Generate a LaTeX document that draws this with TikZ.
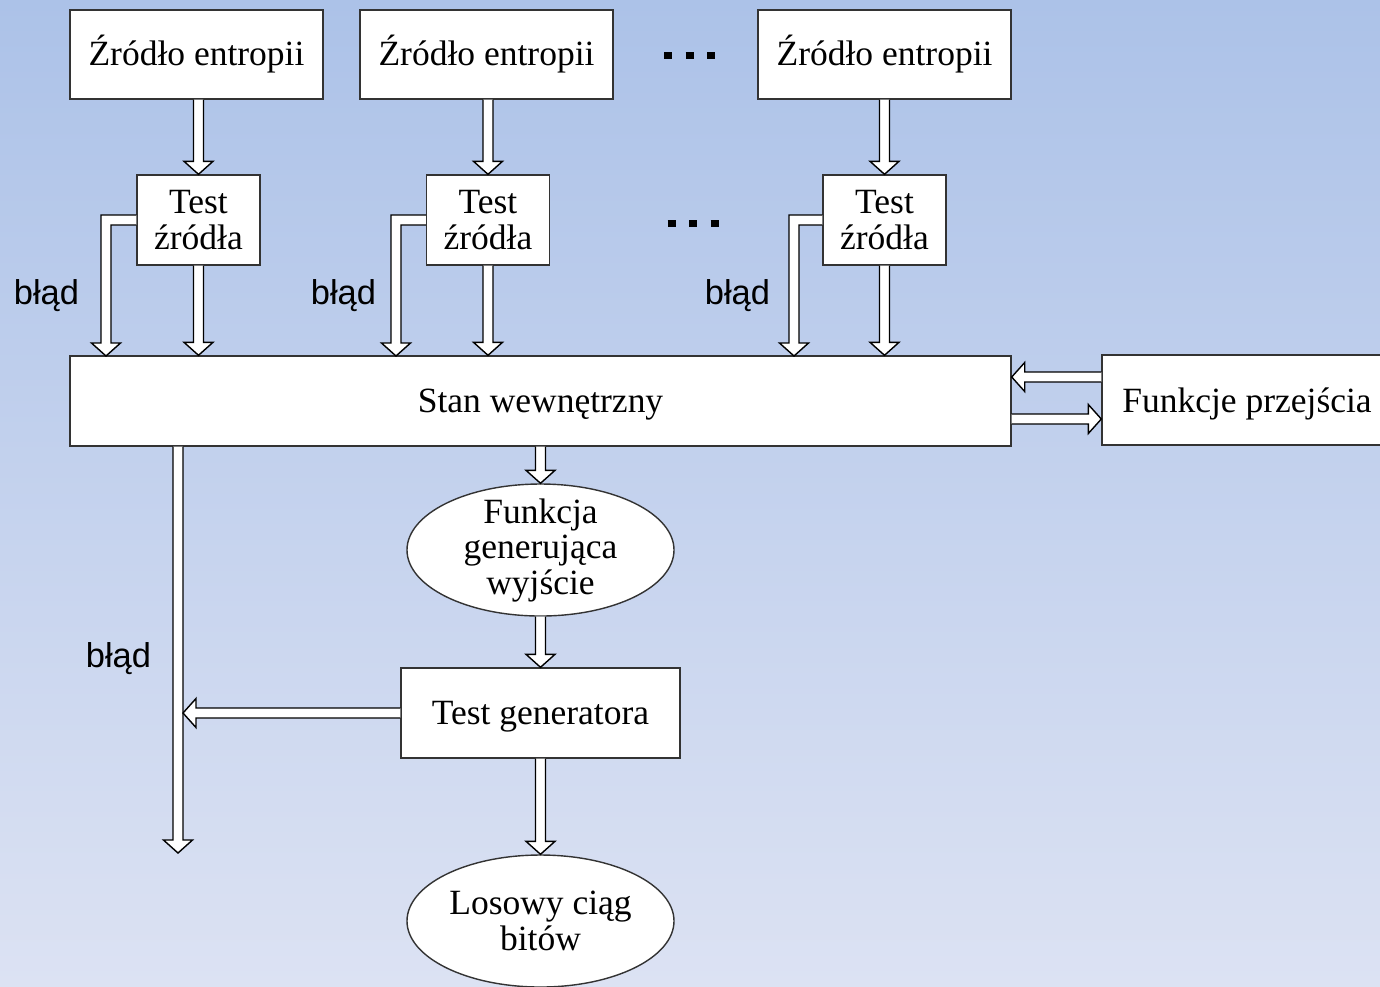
\documentclass[tikz,border=0pt]{standalone}
\usepackage{fontspec}
\setmainfont{Liberation Serif}
\newfontfamily\arialfont{Liberation Sans}
\usetikzlibrary{calc,shapes.geometric}

\definecolor{bgtop}{RGB}{172,194,232}
\definecolor{bgbottom}{RGB}{220,226,243}

% hollow block arrows
\newcommand{\bw}{0.05cm}  % half shaft
\newcommand{\bh}{0.145cm} % half head
\newcommand{\bl}{0.13cm}  % head length
\newcommand{\blockarrow}[2]{%
  \filldraw[barrow] ($(#1)!\bw!90:(#2)$) -- ($(#2)!\bl!(#1)!\bw!-90:(#1)$)
    -- ($(#2)!\bl!(#1)!\bh!-90:(#1)$) -- (#2)
    -- ($(#2)!\bl!(#1)!\bh!90:(#1)$) -- ($(#2)!\bl!(#1)!\bw!90:(#1)$)
    -- ($(#1)!\bw!-90:(#2)$);}
% leaves #1 to the left, turns down to #2
\newcommand{\blockelbow}[2]{%
  \filldraw[barrow] ($(#1)+(0,\bw)$) -- ($(#1 -| #2)+(-\bw,\bw)$)
    -- ($(#2)+(-\bw,\bl)$) -- ($(#2)+(-\bh,\bl)$) -- (#2)
    -- ($(#2)+(\bh,\bl)$) -- ($(#2)+(\bw,\bl)$)
    -- ($(#1 -| #2)+(\bw,-\bw)$) -- ($(#1)+(0,-\bw)$);}
\newcommand{\dotsrow}{\rule{0.08cm}{0.075cm}\hspace{0.135cm}\rule{0.08cm}{0.075cm}\hspace{0.135cm}\rule{0.08cm}{0.075cm}}
\newcommand{\lowered}[1]{\raisebox{-0.04cm}[\height][\depth]{#1}}

\begin{document}
\begin{tikzpicture}[
        box/.style={draw=black!80, fill=white, line width=0.4pt, inner sep=0pt, align=center,
            font=\fontsize{10.1pt}{10.1pt}\selectfont},
        source/.style={box, minimum width=2.53cm, minimum height=0.89cm},
        test/.style={box, minimum width=1.23cm, minimum height=0.90cm},
        oval/.style={box, ellipse, inner ysep=-0.06cm, minimum width=2.67cm, minimum height=1.32cm},
        err/.style={font=\arialfont\fontsize{9.8pt}{9.8pt}\selectfont, anchor=base},
        barrow/.style={draw=black, fill=white, line width=0.4pt, line join=miter},
        dots/.style={inner sep=0pt}
    ]
        \useasboundingbox (0,0) rectangle (13.8,-9.86);
        \shade[top color=bgtop, bottom color=bgbottom] (0,0) rectangle (13.8,-9.86);

        % Sources
        \node[source] (S1) at (1.965,-0.545) {Źródło entropii};
        \node[source] (S2) at (4.865,-0.545) {Źródło entropii};
        \node[source] (S3) at (8.845,-0.545) {Źródło entropii};
        \node[dots] (d1) at (6.895,-0.555) {\dotsrow};

        % Source tests
        \node[test] (T1) at (1.985,-2.20) {Test\\źródła};
        \node[test] (T2) at (4.88,-2.20) {Test\\źródła};
        \node[test] (T3) at (8.845,-2.20) {Test\\źródła};
        \node[dots] (d2) at (6.93,-2.235) {\dotsrow};

        % Internal state
        \node[box, minimum width=9.41cm, minimum height=0.90cm] (Stan) at (5.405,-4.01) {\lowered{Stan wewnętrzny}};
        \node[box, minimum width=2.90cm, minimum height=0.90cm] (Trans) at (12.47,-4.00) {\lowered{Funkcje przejścia}};
        \node[oval] (Out) at (5.405,-5.50) {Funkcja\\generująca\\wyjście};
        \node[box, minimum width=2.79cm, minimum height=0.90cm] (Gen) at (5.405,-7.13) {\lowered{Test generatora}};
        \node[oval] (Bits) at (5.405,-9.21) {Losowy ciąg\\bitów};

        % Free ends
        \coordinate (e1) at (1.06,-3.56);
        \coordinate (e2) at (3.96,-3.56);
        \coordinate (e3) at (7.94,-3.56);
        \coordinate (e4) at (1.83,-7.13);
        \coordinate (e5) at (1.78,-8.53);
        \coordinate (b5) at (Stan.south -| e5);

        % Sources to tests
        \blockarrow{T1.north |- S1.south}{T1.north}
        \blockarrow{T2.north |- S2.south}{T2.north}
        \blockarrow{T3.north |- S3.south}{T3.north}

        % Tests to state
        \blockarrow{T1.south}{T1.south |- Stan.north}
        \blockarrow{T2.south}{T2.south |- Stan.north}
        \blockarrow{T3.south}{T3.south |- Stan.north}
        \blockelbow{T1.west}{e1}
        \blockelbow{T2.west}{e2}
        \blockelbow{T3.west}{e3}

        % Transition functions
        \blockarrow{Trans.west |- 0,-3.77}{Stan.east |- 0,-3.77}
        \blockarrow{Stan.east |- 0,-4.19}{Trans.west |- 0,-4.19}

        % Output path
        \blockarrow{Stan.south}{Out.north}
        \blockarrow{Out.south}{Gen.north}
        \blockarrow{Gen.south}{Bits.north}
        \blockarrow{b5}{e5}
        \blockarrow{Gen.west}{e4}

        % Error labels
        \node[err] (err1) at (0.465,-3.04) {błąd};
        \node[err] (err2) at (3.435,-3.04) {błąd};
        \node[err] (err3) at (7.375,-3.04) {błąd};
        \node[err] (err4) at (1.185,-6.67) {błąd};
    \end{tikzpicture}
\end{document}
